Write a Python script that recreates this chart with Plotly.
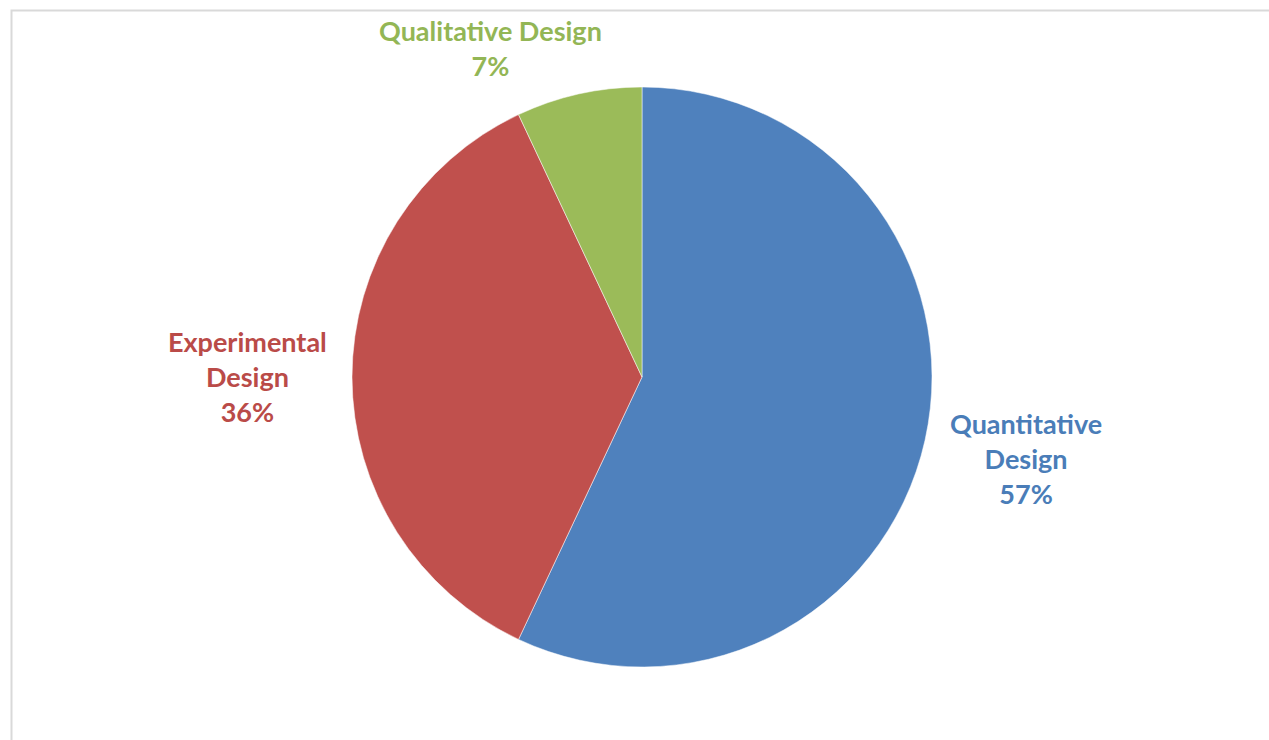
import plotly.graph_objects as go

labels = ["Quantitative Design", "Experimental Design", "Qualitative Design"]
label_lines = [["Quantitative", "Design"], ["Experimental", "Design"], ["Qualitative Design"]]
values = [57, 36, 7]
colors = ["#4F81BD", "#C0504D", "#9BBB59"]
text_colors = ["#4A7DB8", "#BA4B48", "#93B655"]

W, H = 1269, 740
cx, cy, r = 642, 377, 290

fig = go.Figure(go.Pie(
    labels=labels,
    values=values,
    sort=False,
    direction="clockwise",
    rotation=0,
    marker=dict(colors=colors, line=dict(color="white", width=0.5)),
    textinfo="none",
    hoverinfo="label+percent",
    showlegend=False,
    domain=dict(x=[(cx - r) / W, (cx + r) / W], y=[1 - (cy + r) / H, 1 - (cy - r) / H]),
))

# label anchor positions (pixel centres of text blocks)
label_pos = [(1026, 458), (247, 376), (490, 48)]
total = sum(values)
annotations = []
for lines, v, tc, (px, py) in zip(label_lines, values, text_colors, label_pos):
    txt = "<br>".join(lines + [f"{round(100 * v / total)}%"])
    annotations.append(dict(
        x=px / W, y=1 - py / H, xref="paper", yref="paper",
        text=txt, showarrow=False, xanchor="center", yanchor="middle",
        font=dict(family="Lato", size=27, color=tc, weight="bold"),
        align="center",
    ))

fig.update_layout(
    width=W, height=H,
    margin=dict(l=0, r=0, t=0, b=0),
    paper_bgcolor="white",
    plot_bgcolor="white",
    annotations=annotations,
    shapes=[dict(type="rect", xref="paper", yref="paper",
                 x0=11.5 / W, x1=1.02, y0=-0.02, y1=1 - 10.5 / H,
                 line=dict(color="#D9D9D9", width=2), fillcolor="rgba(0,0,0,0)")],
)

fig.write_html("out.html")
